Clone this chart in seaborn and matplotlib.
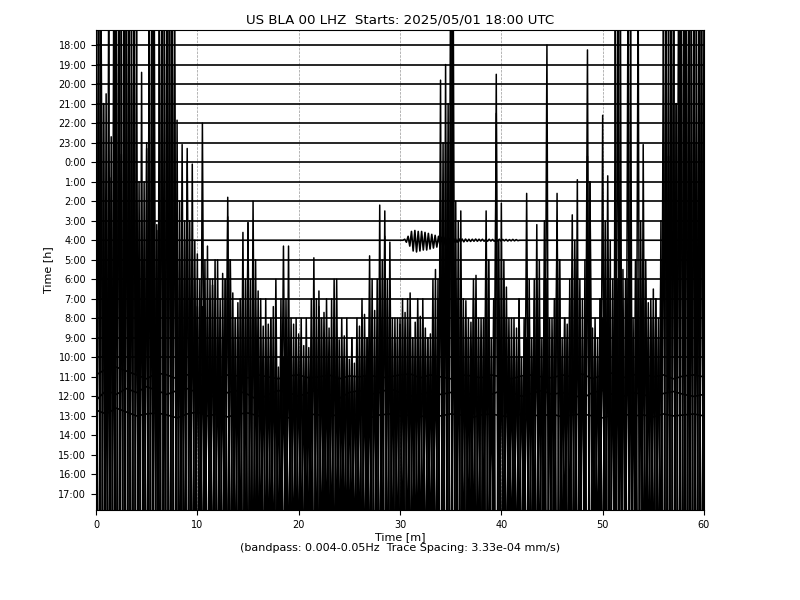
import numpy as np
import pandas as pd
import matplotlib

matplotlib.use("Agg")
import matplotlib.pyplot as plt
import seaborn as sns

# one row per hour, top to bottom
hour_labels = [
    "18:00", "19:00", "20:00", "21:00", "22:00", "23:00",
    "0:00", "1:00", "2:00", "3:00", "4:00", "5:00",
    "6:00", "7:00", "8:00", "9:00", "10:00", "11:00",
    "12:00", "13:00", "14:00", "15:00", "16:00", "17:00",
]

# amplitudes in units of trace spacing (positive = up)
quiet_rows = [0, 1, 2, 3, 4, 5, 6, 7, 8, 9, 11, 12, 13, 14, 15, 16]
quiet_level = [0.0, 0.0]

# 4:00 trace, small quake from ~30.3 min, samples every 10 s
quake_start = 30.3
quake_vals = [
    0, 0.05, -0.1, 0.2, -0.3, 0.45, -0.55, 0.5, -0.6, 0.45,
    -0.55, 0.45, -0.5, 0.4, -0.5, 0.35, -0.45, 0.3, -0.4, 0.25,
    -0.35, 0.2, -0.3, 0.15, -0.25, 0.15, -0.2, 0.1, -0.15, 0.1,
    -0.12, 0.08, -0.1, 0.08, -0.08, 0.06, -0.08, 0.06, -0.06, 0.05,
    -0.06, 0.05, -0.05, 0.06, -0.05, 0.05, -0.04, 0.05, -0.05, 0.04,
    -0.05, 0.05, -0.04, 0.04, -0.05, 0.04, -0.04, 0.05, -0.04, 0.04,
    -0.03, 0.04, -0.04, 0.03, -0.03, 0.04, -0.03, 0.03, -0.02, 0,
]

# 11:00 - 13:00, one value per minute
wiggle_11 = [
    0.1, 0.4, 0.5, 0.3, 0.1, -0.1, 0.2, 0.1, -0.1, 0.1,
    0.2, 0.0, -0.1, 0.1, 0.05, -0.05, 0.1, 0.0, -0.1, 0.05,
    0.1, -0.05, 0.0, 0.1, -0.1, 0.05, 0.0, 0.1, -0.05, 0.0,
    0.1, 0.15, -0.05, 0.1, 0.0, -0.1, 0.1, 0.05, -0.05, 0.1,
    0.0, -0.1, 0.05, 0.1, 0.0, -0.05, 0.1, 0.0, 0.15, -0.1,
    0.1, 0.2, -0.05, 0.1, 0.15, 0.0, 0.1, -0.1, 0.05, 0.1,
    0.0,
]
wiggle_12 = [
    -0.2, 0.3, 0.1, 0.4, 0.2, 0.5, 0.3, 0.1, 0.3, 0.4,
    0.2, 0.1, -0.1, 0.2, 0.3, 0.1, -0.2, 0.1, 0.3, 0.2,
    0.0, 0.2, 0.35, 0.1, -0.1, 0.2, 0.3, 0.1, 0.2, 0.4,
    0.2, 0.0, 0.1, 0.25, 0.1, 0.2, 0.35, 0.1, -0.1, 0.1,
    0.3, 0.2, 0.0, 0.15, 0.3, 0.1, 0.2, 0.1, -0.1, 0.2,
    0.3, 0.1, 0.0, 0.2, 0.1, -0.1, 0.15, 0.25, 0.1, 0.0,
    0.1,
]
wiggle_13 = [
    0.3, 0.1, 0.4, 0.2, 0.0, 0.1, 0.15, 0.05, -0.1, 0.1,
    0.2, 0.0, 0.1, -0.05, 0.1, 0.15, 0.0, 0.05, 0.1, -0.1,
    0.0, 0.1, 0.05, -0.05, 0.1, 0.0, 0.1, -0.1, 0.05, 0.1,
    0.0, 0.05, -0.05, 0.1, 0.0, 0.1, 0.05, -0.1, 0.05, 0.1,
    0.0, -0.05, 0.1, 0.05, 0.0, 0.1, -0.05, 0.05, 0.1, 0.0,
    -0.1, 0.05, 0.1, 0.0, 0.05, -0.05, 0.1, 0.0, 0.05, 0.1,
    0.0,
]

# 14:00 - 17:00 noisy traces, extremes every quarter minute
# 14:00 peaks on the whole minute ...
p14_whole = [
    23, 17.5, 15, 23, 12, 15, 10.8, 23, 8, 14.7,
    9.3, 6, 9, 11.2, 6.8, 10.9, 5, 5.7, 3.5, 5,
    5.2, 4.5, 6.6, 5.5, 3, 3.9, 4, 9.2, 6.9, 9.9,
    5.7, 7.3, 4, 5.2, 12, 23, 6, 5.8, 5, 5,
    5, 6, 3, 5, 3, 6, 4, 11.3, 5, 5.5,
    6, 8, 6, 6, 7, 7.5, 15, 23, 12, 23,
    16,
]
# ... and on the half minute
p14_half = [
    23, 15.3, 14.4, 23, 11, 23, 23, 16.2, 14.9, 9,
    16, 7.7, 8.3, 5, 10.4, 8.1, 5.6, 4, 9.7, 4,
    4.6, 6, 6.3, 5, 5.1, 3, 6.2, 4, 11.5, 6,
    6.3, 4, 5.5, 4.1, 19, 8, 6.9, 5, 11.5, 16.5,
    7.6, 4, 12.4, 6, 20, 11, 5.7, 8, 19.75, 4,
    13.3, 23, 8, 8, 6.8, 5, 23, 23, 23, 15.5,
]
# troughs at +0.25 and +0.75 min
t14 = [
    -22, -20, -16, -18, -20, -22, -24, -20, -14, -12,
    -16, -20, -12, -22, -20, -16, -10, -12, -13, -9,
    -9, -8, -8, -10, -9, -7, -10, -8, -7, -9,
    -9, -8, -6, -7, -6, -8, -5, -7, -7, -6,
    -6, -5, -5, -7, -7, -6, -6, -5, -5, -6,
    -5, -6, -7, -6, -9, -8, -8, -10, -8, -7,
    -6, -7, -7, -6, -5, -6, -6, -8, -15, -20,
    -20, -12, -7, -6, -6, -7, -5, -9, -6, -14,
    -6, -7, -6, -5, -5, -9, -5, -7, -6, -18,
    -6, -9, -5, -6, -10, -8, -6, -16, -6, -5,
    -7, -11, -9, -20, -7, -20, -6, -18, -7, -8,
    -9, -7, -18, -20, -22, -18, -15, -20, -20, -18,
]
p16_whole = [
    25, 10, 25, 25, 25, 16.7, 12.5, 25, 18.15, 16,
    8.6, 11.7, 7, 14.2, 6, 12.9, 9.4, 6, 5, 11.7,
    6, 5, 9.4, 6, 6.9, 5, 7.6, 6.2, 13.8, 9.1,
    8, 7, 8.1, 6, 20.2, 25, 13.5, 6, 8, 5,
    13.9, 6, 6, 6, 7, 7, 7, 8, 9, 6,
    18.4, 7, 10.5, 7, 16.9, 8, 25, 25, 25, 25,
    25,
]
p16_half = [
    25, 15.2, 25, 20, 20.6, 16, 25, 25, 10, 15.9,
    8.6, 10, 7, 9.3, 9.9, 14, 6, 8.6, 6, 7.7,
    5, 11.1, 6, 10, 6, 5.7, 6, 8.4, 12.2, 6.7,
    7, 7.8, 7, 10.5, 17, 14, 7, 10.2, 8, 20.5,
    8, 7.5, 7, 12.8, 10, 14.4, 7, 15.1, 16.3, 7,
    9, 10, 25, 25, 7, 8, 16.3, 25, 14, 25,
]
t16 = [
    -24, -22, -15, -20, -22, -24, -25, -22, -20, -16,
    -16, -22, -22, -20, -20, -24, -14, -12, -12, -10,
    -9, -10, -10, -8, -8, -9, -10, -7, -7, -8,
    -9, -7, -8, -6, -6, -7, -6, -8, -8, -6,
    -6, -7, -7, -8, -8, -7, -6, -8, -6, -7,
    -6, -6, -7, -8, -8, -9, -10, -9, -8, -7,
    -7, -8, -7, -8, -7, -6, -6, -9, -18, -20,
    -22, -14, -9, -7, -6, -7, -7, -8, -8, -18,
    -9, -7, -6, -7, -6, -8, -6, -9, -7, -10,
    -7, -12, -7, -8, -8, -14, -9, -15, -8, -7,
    -12, -9, -10, -22, -9, -22, -8, -20, -10, -8,
    -8, -9, -22, -24, -24, -20, -20, -22, -22, -20,
]
# 15:00 and 17:00 peak on the quarter minutes
p15 = [
    24, 18, 12, 24, 24, 16, 24, 24, 14, 10,
    17, 24, 11, 24, 24, 20, 13, 11, 12, 9,
    8, 10, 9, 7, 8, 9, 10, 7, 8, 9,
    7, 10, 8, 6, 7, 9, 6, 8, 7, 6,
    6, 7, 8, 6, 7, 8, 6, 9, 7, 5,
    6, 7, 8, 6, 7, 9, 10, 8, 7, 6,
    8, 7, 6, 8, 7, 6, 9, 8, 16, 18,
    24, 12, 8, 7, 9, 6, 7, 10, 8, 11,
    9, 7, 6, 8, 7, 9, 8, 10, 9, 7,
    8, 10, 7, 8, 11, 9, 10, 14, 7, 8,
    12, 9, 10, 24, 9, 24, 10, 12, 9, 8,
    8, 10, 24, 24, 18, 24, 24, 16, 24, 24,
]
t15 = [
    -20, -22, -22, -18, -16, -24, -18, -20, -20, -14,
    -15, -22, -22, -20, -24, -18, -16, -12, -14, -10,
    -10, -9, -12, -8, -9, -10, -9, -7, -8, -9,
    -8, -7, -7, -8, -6, -7, -6, -9, -7, -6,
    -6, -7, -6, -8, -7, -6, -6, -7, -6, -5,
    -5, -6, -6, -7, -7, -9, -9, -10, -8, -7,
    -7, -8, -7, -6, -6, -7, -6, -8, -14, -18,
    -20, -12, -9, -8, -6, -7, -7, -10, -12, -16,
    -10, -8, -6, -7, -9, -11, -8, -9, -12, -18,
    -10, -11, -7, -8, -9, -10, -14, -18, -7, -6,
    -10, -12, -18, -22, -22, -24, -16, -14, -8, -7,
    -7, -8, -20, -22, -22, -20, -18, -20, -20, -18,
    -16,
]
p17 = [
    26, 20, 26, 14, 26, 26, 18, 26, 12, 16,
    26, 15, 26, 14, 26, 26, 12, 14, 10, 13,
    11, 9, 10, 12, 9, 11, 12, 9, 10, 8,
    11, 9, 8, 10, 9, 8, 10, 9, 8, 9,
    9, 7, 8, 10, 9, 8, 10, 8, 7, 9,
    8, 7, 9, 8, 11, 8, 9, 11, 8, 9,
    9, 10, 8, 9, 10, 8, 9, 11, 16, 18,
    14, 10, 9, 8, 10, 9, 9, 12, 10, 9,
    12, 8, 9, 10, 8, 9, 11, 9, 14, 9,
    10, 12, 9, 11, 12, 10, 9, 16, 8, 10,
    11, 13, 26, 12, 10, 14, 12, 9, 12, 9,
    10, 14, 26, 26, 20, 26, 26, 26, 18, 26,
]
t17 = [
    -24, -22, -20, -18, -18, -24, -24, -20, -22, -18,
    -16, -20, -20, -24, -24, -22, -12, -10, -14, -12,
    -10, -9, -10, -11, -9, -8, -8, -10, -9, -10,
    -10, -12, -7, -8, -8, -9, -7, -8, -7, -9,
    -6, -8, -9, -10, -8, -7, -8, -9, -7, -8,
    -6, -7, -6, -8, -8, -9, -10, -12, -8, -9,
    -8, -9, -8, -10, -7, -8, -9, -11, -16, -20,
    -18, -14, -9, -8, -9, -10, -8, -10, -16, -20,
    -10, -9, -8, -9, -8, -10, -10, -12, -9, -11,
    -12, -14, -8, -10, -12, -15, -15, -17, -8, -9,
    -9, -11, -22, -24, -24, -22, -22, -20, -8, -9,
    -8, -10, -16, -22, -22, -20, -14, -20, -20, -22,
    -18,
]


def interleave(first, second):
    out = np.empty(len(first) + len(second))
    out[0::2] = first
    out[1::2] = second
    return out


frames = []


def add_trace(row, minutes, values, loud):
    frames.append(pd.DataFrame({
        "minute": np.asarray(minutes, dtype=float),
        "pos": row - np.asarray(values, dtype=float),
        "trace": row,
        "loud": loud,
    }))


for r in quiet_rows:
    add_trace(r, [0, 60], quiet_level, False)

quake_min = quake_start + np.arange(len(quake_vals)) / 6.0
add_trace(10, np.r_[0, quake_min, 60], np.r_[0, quake_vals, 0], False)

minute_1 = np.arange(0, 61, 1.0)
add_trace(17, minute_1, wiggle_11, False)
add_trace(18, minute_1, wiggle_12, False)
add_trace(19, minute_1, wiggle_13, False)

minute_q = np.arange(0, 60.25, 0.25)
add_trace(20, minute_q, interleave(interleave(p14_whole, p14_half), t14), True)
add_trace(21, minute_q, interleave(t15, p15), True)
add_trace(22, minute_q, interleave(interleave(p16_whole, p16_half), t16), True)
add_trace(23, minute_q, interleave(t17, p17), True)

traces = pd.concat(frames, ignore_index=True)

fig, ax = plt.subplots(figsize=(8, 6), dpi=100)
fig.subplots_adjust(left=0.12, right=0.88, top=0.95, bottom=0.15)

sns.lineplot(
    data=traces[~traces["loud"]], x="minute", y="pos", units="trace",
    estimator=None, sort=False, color="black", linewidth=1.2, ax=ax,
    legend=False,
)
sns.lineplot(
    data=traces[traces["loud"]], x="minute", y="pos", units="trace",
    estimator=None, sort=False, color="black", linewidth=1.1, ax=ax,
    legend=False,
)

ax.set_xlim(0, 60)
ax.set_ylim(23.82, -0.77)
ax.set_xticks(range(0, 61, 10))
ax.set_yticks(range(len(hour_labels)))
ax.set_yticklabels(hour_labels)
ax.tick_params(labelsize=7)
ax.grid(axis="x", linestyle="--", linewidth=0.5, color="0.6")
ax.set_axisbelow(True)

ax.set_title("US BLA 00 LHZ  Starts: 2025/05/01 18:00 UTC", fontsize=9.6, pad=4.5)
ax.set_xlabel(
    "Time [m]\n(bandpass: 0.004-0.05Hz  Trace Spacing: 3.33e-04 mm/s)",
    fontsize=8, labelpad=1.5,
)
ax.set_ylabel("Time [h]", fontsize=8)

fig.savefig("out.png", dpi=100)
